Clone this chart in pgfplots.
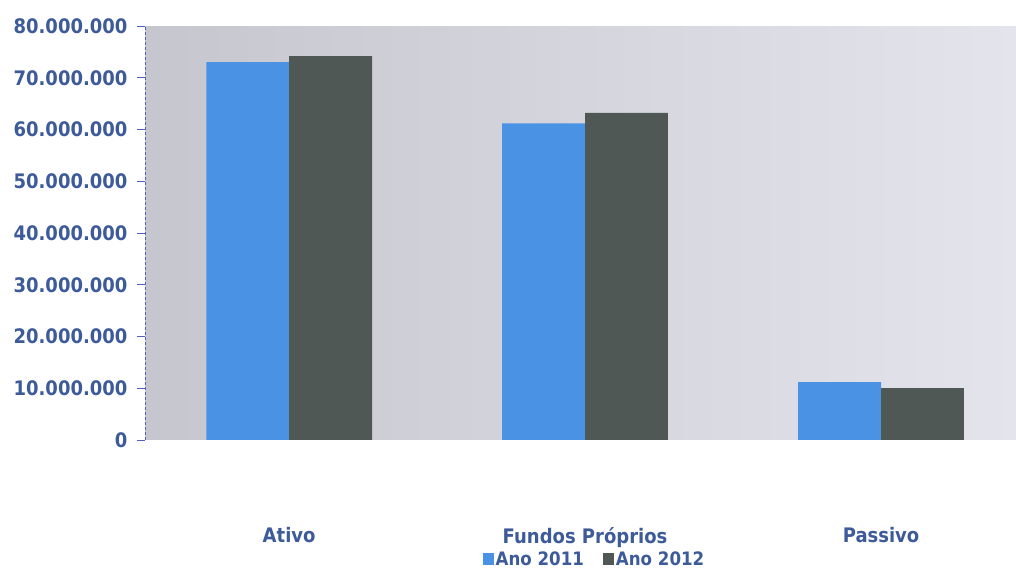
\documentclass[border=0pt]{standalone}
\usepackage{fontspec}
\setmainfont{DejaVu Sans}[FakeStretch=0.9]
\usepackage{pgfplots}
\pgfplotsset{compat=1.18}
\definecolor{labelblue}{HTML}{3D5A99}
\definecolor{axisblue}{HTML}{4F62C4}
\definecolor{bar11}{HTML}{4A93E4}
\definecolor{bar12}{HTML}{4F5854}
\definecolor{bgleft}{HTML}{C6C6CF}
\definecolor{bgright}{HTML}{E4E4EC}

\begin{document}
\begin{tikzpicture}[x=1pt,y=1pt]
\useasboundingbox (0,0) rectangle (1016,569);
\begin{axis}[
  at={(145pt,129pt)}, anchor=south west,
  scale only axis, width=871pt, height=414pt,
  ybar=0pt, bar width=0.28,
  xmin=-0.487, xmax=2.456, ymin=0, ymax=80000000,
  xtick={0,1,2}, xticklabels={Ativo, Fundos Próprios, Passivo},
  ytick={0,10000000,20000000,30000000,40000000,50000000,60000000,70000000,80000000},
  scaled y ticks=false,
  yticklabel style={/pgf/number format/fixed, /pgf/number format/precision=0,
    /pgf/number format/1000 sep={.}, /pgf/number format/assume math mode=true,
    xshift=-6pt},
  axis lines*=left,
  x axis line style={draw=none},
  y axis line style={draw=axisblue, densely dashed, line width=0.8pt},
  xtick style={draw=none},
  ytick style={draw=axisblue, line width=0.8pt},
  tick align=outside, major tick length=8pt,
  font=\bfseries\fontsize{20}{24}\selectfont,
  tick label style={text=labelblue},
  xticklabel style={yshift=-76pt},
  axis background/.style={left color=bgleft, right color=bgright},
  legend style={at={(0.516,-0.288)}, anchor=center, draw=none, fill=none,
    legend columns=2, text=labelblue, font=\bfseries\fontsize{18.5}{22}\selectfont,
    /tikz/every even column/.append style={column sep=18pt},
    nodes={inner sep=1.5pt},
    inner sep=0pt},
  legend image code/.code={\fill[#1, draw=none] (0pt,-6pt) rectangle (11pt,6pt);},
  every axis plot/.append style={draw=none},
]
\addplot[fill=bar11] coordinates {(0,73000000) (1,61200000) (2,11200000)};
\addplot[fill=bar12] coordinates {(0,74200000) (1,63200000) (2,10000000)};
\legend{Ano 2011, Ano 2012}
\end{axis}
\end{tikzpicture}
\end{document}
